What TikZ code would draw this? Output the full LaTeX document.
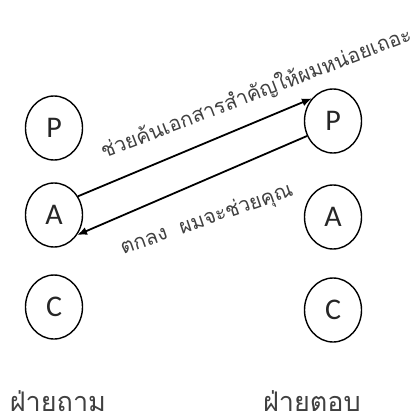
\documentclass[tikz,border=0pt]{standalone}
\usepackage{fontspec}
\setmainfont{Carlito}
\newfontfamily\thaifont[Script=Thai]{Loma}
\usetikzlibrary{shapes.geometric,arrows.meta}
\begin{document}
\begin{tikzpicture}[x=1pt,y=-1pt,
  role/.style={ellipse,draw,line width=1.4pt,minimum width=57pt,minimum height=64pt,inner sep=0pt,
    font=\fontsize{30}{30}\selectfont,text=black!85},
  msg/.style={line width=1.8pt,-{Latex[length=10pt,width=8pt]}},
  speech/.style={font=\thaifont\fontsize{20.5}{20.5}\selectfont,text=black!75,inner sep=0pt},
  side/.style={font=\thaifont\fontsize{27}{27}\selectfont,text=black!75,inner sep=0pt,anchor=base}]
\useasboundingbox (0,0) rectangle (419,415);
\node[role] (P1) at (54,128) {P};
\node[role] (A1) at (54,215) {A};
\node[role] (C1) at (54,307) {C};
\node[role] (P2) at (333,121) {P};
\node[role] (A2) at (333,217) {A};
\node[role] (C2) at (333,310) {C};
\draw[msg] (A1.38) -- (P2.133);
\draw[msg] (P2.210) -- (A1.319);
\node[speech,rotate=21] (t1) at (256,93) {ช่วยค้นเอกสารสำคัญให้ผมหน่อยเถอะ};
\node[speech,rotate=19] (t2) at (207,220) {ตกลง\ \ ผมจะช่วยคุณ};
\node[side] (s1) at (58,411) {ฝ่ายถาม};
\node[side] (s2) at (312,411) {ฝ่ายตอบ};
\end{tikzpicture}
\end{document}
